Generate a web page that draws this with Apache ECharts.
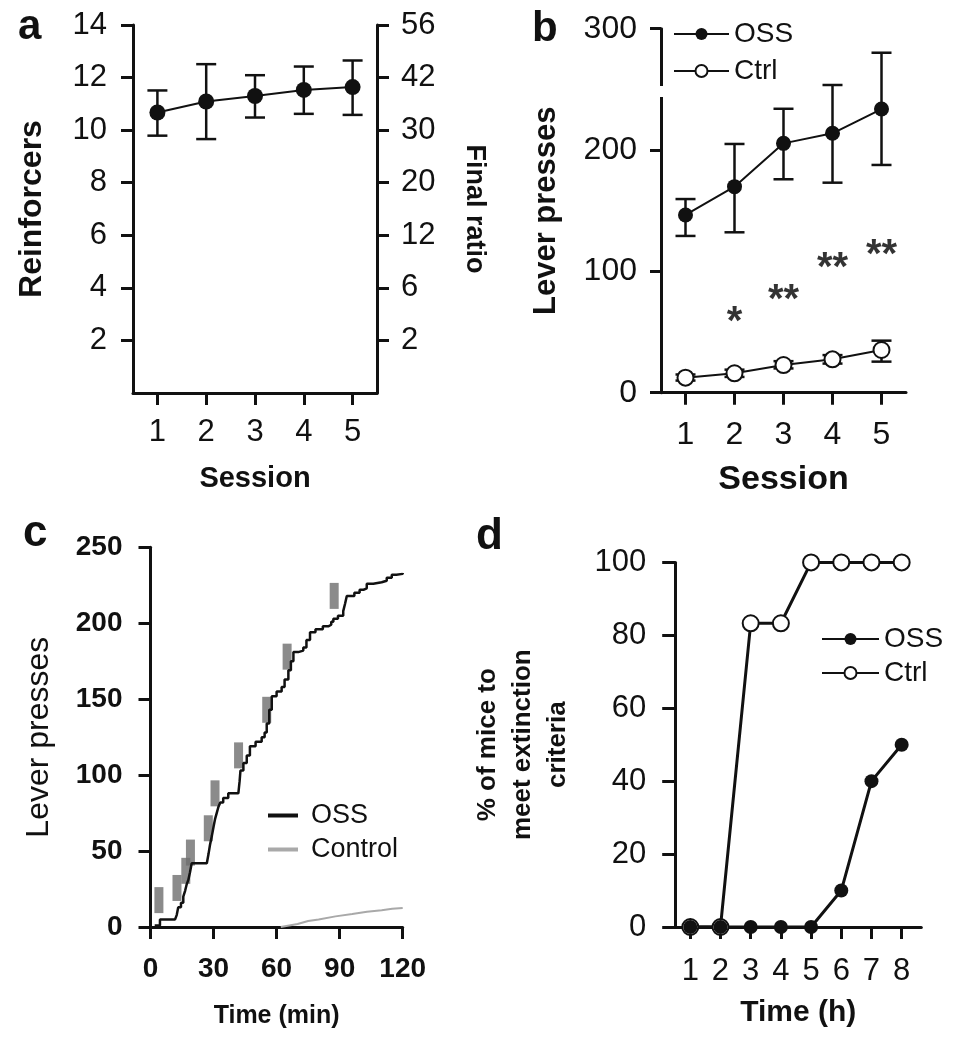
<!DOCTYPE html>
<html><head><meta charset="utf-8">
<script src="https://cdn.jsdelivr.net/npm/echarts@6/dist/echarts.min.js"></script>
<style>html,body{margin:0;padding:0;background:#fff}#chart{width:956px;height:1050px}</style>
</head><body><div id="chart"></div>
<script>
// ---------- Panel a ----------
const sessions = ['1', '2', '3', '4', '5'];
const reinforcersMean = [10.67, 11.09, 11.30, 11.53, 11.64];
const reinforcersHigh = [11.51, 12.51, 12.09, 12.42, 12.65];
const reinforcersLow  = [9.79, 9.66, 10.48, 10.62, 10.58];
const reinforcerTicks = [2, 4, 6, 8, 10, 12, 14];
const finalRatioLabels = ['2', '6', '12', '20', '30', '42', '56'];
// ---------- Panel b ----------
const ossPressMean = [146.5, 169.8, 205.5, 213.8, 233.8];
const ossPressHigh = [159.6, 205.0, 234.0, 253.6, 280.2];
const ossPressLow  = [129.2, 132.2, 175.9, 173.1, 187.7];
const ctrlPressMean = [12.4, 16.0, 22.8, 27.5, 35.2];
const ctrlPressHigh = [15.0, 19.0, 26.0, 31.0, 42.9];
const ctrlPressLow  = [10.0, 13.0, 20.0, 24.0, 25.6];
const sigSessions = ['2', '3', '4', '5'];
const sigMarks = ['*', '**', '**', '**'];
const sigHeights = [66.8, 84.6, 110.8, 121.7];
const bAxisBreak = [243.7, 252.8];
// ---------- Panel c ----------
const ossCumTime = [2, 4.5, 11.7, 12.5, 13.2, 14.5, 15.6, 16.5, 17.2, 18, 18.8, 19.6, 26.8, 27.6, 28.3, 29.2, 30, 30.7, 31.5, 32.3, 33.2, 34.6, 37, 41.8, 42.4, 42.8, 44.2, 45.8, 47.3, 50, 52.9, 54.3, 55.3, 56.5, 57.7, 60, 62.4, 63.8, 65.6, 66.8, 68, 70.3, 72.7, 74.2, 75.9, 78.5, 82, 84.6, 86, 87, 89.2, 91.7, 92.6, 93.4, 97, 99.5, 101.3, 102.9, 106, 110, 112.4, 114.8, 117, 120];
const ossCumCount = [1, 5, 5, 8, 13, 16, 20, 24, 28, 31, 36, 42, 42, 48, 54, 60, 66, 71, 75, 79, 82, 85, 88, 88, 96, 103, 108, 113, 119, 122, 125, 128, 134, 143, 152, 155, 158, 163, 169, 175, 181, 182, 184, 189, 194, 196, 198, 199, 201, 203, 205, 208, 213, 218, 220, 222, 223, 226, 227, 228, 230, 232, 232.5, 233];
const ctrlCumTime = [62, 66, 70, 75, 80, 88, 96, 103, 110, 115, 120];
const ctrlCumCount = [0, 1, 2, 4, 5, 7, 8.5, 10, 11, 12, 12.5];
const rewardTime = [4, 12.6, 16.8, 19, 27.5, 30.7, 41.9, 55.3, 65, 87.4];
const rewardCount = [17.7, 25.7, 37, 49, 65, 88, 113, 143, 178, 218];
// ---------- Panel d ----------
const hours = [1, 2, 3, 4, 5, 6, 7, 8];
const ossExtinct = [0, 0, 0, 0, 0, 10, 40, 50];
const ctrlExtinct = [0, 0, 83.3, 83.3, 100, 100, 100, 100];

const FONT = "'Liberation Sans', Arial, Helvetica, sans-serif";
const INK = '#111';

function errorBar(capHalf, width) {
  return function (params, api) {
    const x = api.value(0), lo = api.value(1), hi = api.value(2);
    const a = api.coord([x, lo]), b = api.coord([x, hi]);
    const st = { stroke: INK, lineWidth: width };
    return { type: 'group', children: [
      { type: 'line', shape: { x1: a[0], y1: a[1], x2: b[0], y2: b[1] }, style: st },
      { type: 'line', shape: { x1: a[0] - capHalf, y1: a[1], x2: a[0] + capHalf, y2: a[1] }, style: st },
      { type: 'line', shape: { x1: b[0] - capHalf, y1: b[1], x2: b[0] + capHalf, y2: b[1] }, style: st }
    ]};
  };
}

const axisLine = { show: true, lineStyle: { color: INK, width: 3 } };
const tickOut = (len) => ({ show: true, length: len, inside: false, lineStyle: { color: INK, width: 3 } });
const lbl = (size, margin, bold) => ({ color: INK, fontSize: size, fontFamily: FONT, margin: margin, fontWeight: bold ? 'bold' : 'normal' });
const nameStyle = (size, bold) => ({ color: INK, fontSize: size, fontFamily: FONT, fontWeight: bold ? 'bold' : 'normal' });

const option = {
  backgroundColor: '#fff',
  animation: false,
  textStyle: { fontFamily: FONT },
  grid: [
    { left: 133, top: 25, width: 244, height: 368 },
    { left: 661, top: 28.7, width: 245, height: 364 },
    { left: 150.5, top: 547.3, width: 252.2, height: 379.7 },
    { left: 675.2, top: 562.4, width: 246.1, height: 364.6 }
  ],
  xAxis: [
    { gridIndex: 0, type: 'category', data: sessions, boundaryGap: true,
      axisLine, axisTick: Object.assign(tickOut(12), { alignWithLabel: true }),
      axisLabel: lbl(31, 24), splitLine: { show: false },
      name: 'Session', nameLocation: 'middle', nameGap: 71, nameTextStyle: nameStyle(29, true) },
    { gridIndex: 1, type: 'category', data: sessions, boundaryGap: true,
      axisLine, axisTick: Object.assign(tickOut(12), { alignWithLabel: true }),
      axisLabel: lbl(32, 26), splitLine: { show: false },
      name: 'Session', nameLocation: 'middle', nameGap: 70, nameTextStyle: nameStyle(34, true) },
    { gridIndex: 2, type: 'value', min: 0, max: 120, interval: 30,
      axisLine, axisTick: tickOut(12), axisLabel: lbl(28, 28, true), splitLine: { show: false },
      name: 'Time (min)', nameLocation: 'middle', nameGap: 77, nameTextStyle: nameStyle(25, true) },
    { gridIndex: 3, type: 'value', min: 0.5, max: 8.65,
      axisLine, axisTick: Object.assign(tickOut(12), { customValues: hours }),
      axisLabel: Object.assign(lbl(31, 29), { customValues: hours }), splitLine: { show: false },
      name: 'Time (h)', nameLocation: 'middle', nameGap: 71, nameTextStyle: nameStyle(30, true) }
  ],
  yAxis: [
    { gridIndex: 0, type: 'value', min: 0, max: 14, interval: 2,
      axisLine, axisTick: Object.assign(tickOut(12), { customValues: reinforcerTicks }),
      axisLabel: Object.assign(lbl(31, 26), { customValues: reinforcerTicks }), splitLine: { show: false },
      name: 'Reinforcers', nameLocation: 'middle', nameGap: 85, nameTextStyle: nameStyle(32, true) },
    { gridIndex: 0, type: 'value', position: 'right', min: 0, max: 14, interval: 2,
      axisLine, axisTick: Object.assign(tickOut(12), { customValues: reinforcerTicks }),
      axisLabel: Object.assign(lbl(31, 24), { customValues: reinforcerTicks,
        formatter: (v) => finalRatioLabels[reinforcerTicks.indexOf(v)] || '' }),
      splitLine: { show: false },
      name: 'Final ratio', nameLocation: 'middle', nameRotate: -90, nameGap: 84, nameTextStyle: nameStyle(27, true) },
    { gridIndex: 1, type: 'value', min: 0, max: 300, interval: 100,
      axisLine, axisTick: tickOut(11), axisLabel: lbl(32, 24), splitLine: { show: false },
      name: 'Lever presses', nameLocation: 'middle', nameGap: 99, nameTextStyle: nameStyle(31, true) },
    { gridIndex: 2, type: 'value', min: 0, max: 250, interval: 50,
      axisLine, axisTick: tickOut(12), axisLabel: lbl(28, 28, true), splitLine: { show: false },
      name: 'Lever presses', nameLocation: 'middle', nameGap: 95, nameTextStyle: nameStyle(32, false) },
    { gridIndex: 3, type: 'value', min: 0, max: 100, interval: 20,
      axisLine, axisTick: tickOut(13), axisLabel: lbl(31, 29), splitLine: { show: false },
      name: '% of mice to\nmeet extinction\ncriteria', nameLocation: 'middle', nameGap: 100,
      nameTextStyle: Object.assign(nameStyle(26, true), { lineHeight: 35, align: 'center' }) }
  ],
  legend: [
    { data: ['OSS', 'Ctrl'], left: 673, top: 20, orient: 'vertical', itemWidth: 55, itemHeight: 15,
      itemGap: 9, padding: 0, selectedMode: false, textStyle: { color: INK, fontSize: 28, fontFamily: FONT } },
    { data: [{ name: 'OSS', icon: 'rect' }, { name: 'Control', icon: 'rect' }], left: 268, top: 802,
      orient: 'vertical', itemWidth: 30, itemHeight: 4, itemGap: 7, padding: 0, selectedMode: false,
      textStyle: { color: INK, fontSize: 27, fontFamily: FONT, padding: [0, 0, 0, 8] } },
    { data: ['OSS', 'Ctrl'], left: 821, top: 625, orient: 'vertical', itemWidth: 57, itemHeight: 15,
      itemGap: 6, padding: 0, selectedMode: false, textStyle: { color: INK, fontSize: 28, fontFamily: FONT } }
  ],
  graphic: [
    { type: 'text', left: 18, top: 6, style: { text: 'a', font: "bold 42px " + FONT, fill: INK } },
    { type: 'text', left: 532, top: 8, style: { text: 'b', font: "bold 42px " + FONT, fill: INK } },
    { type: 'text', left: 23, top: 512, style: { text: 'c', font: "bold 44px " + FONT, fill: INK } },
    { type: 'text', left: 476, top: 515, style: { text: 'd', font: "bold 44px " + FONT, fill: INK } }
  ],
  series: [
    // a
    { type: 'custom', name: 'errA', xAxisIndex: 0, yAxisIndex: 0, renderItem: errorBar(10, 2.5),
      data: sessions.map((s, i) => [i, reinforcersLow[i], reinforcersHigh[i]]), silent: true },
    { type: 'line', name: 'Reinforcers', xAxisIndex: 0, yAxisIndex: 0, data: reinforcersMean,
      symbol: 'circle', symbolSize: 16, itemStyle: { color: INK }, lineStyle: { color: INK, width: 2 } },
    // b
    { type: 'custom', name: 'errOSS', xAxisIndex: 1, yAxisIndex: 2, renderItem: errorBar(10, 2.5),
      data: sessions.map((s, i) => [i, ossPressLow[i], ossPressHigh[i]]), silent: true },
    { type: 'custom', name: 'errCtrl', xAxisIndex: 1, yAxisIndex: 2, renderItem: errorBar(10, 2.5),
      data: sessions.map((s, i) => [i, ctrlPressLow[i], ctrlPressHigh[i]]), silent: true },
    { type: 'line', name: 'OSS', xAxisIndex: 1, yAxisIndex: 2, data: ossPressMean,
      symbol: 'circle', symbolSize: 15, itemStyle: { color: INK }, lineStyle: { color: INK, width: 2 } },
    { type: 'line', name: 'Ctrl', xAxisIndex: 1, yAxisIndex: 2, data: ctrlPressMean,
      symbol: 'emptyCircle', symbolSize: 16, itemStyle: { color: INK, borderWidth: 2 }, lineStyle: { color: INK, width: 2 } },
    { type: 'scatter', name: 'sig', xAxisIndex: 1, yAxisIndex: 2, symbolSize: 0, silent: true,
      data: sigSessions.map((s, i) => [s, sigHeights[i], sigMarks[i]]),
      label: { show: true, position: 'inside', formatter: (p) => p.data[2], fontSize: 40, fontWeight: 'bold',
        fontFamily: FONT, color: '#000', offset: [0, 11] } },
    { type: 'custom', name: 'break', xAxisIndex: 1, yAxisIndex: 2, clip: false, silent: true, z: 5,
      data: [[0, bAxisBreak[0], bAxisBreak[1]]],
      renderItem: (params, api) => {
        const lo = api.coord([0, api.value(1)]), hi = api.coord([0, api.value(2)]);
        const x0 = params.coordSys.x;
        return { type: 'rect', shape: { x: x0 - 4, y: hi[1], width: 8, height: lo[1] - hi[1] }, style: { fill: '#fff' } };
      } },
    // c
    { type: 'scatter', name: 'reward', xAxisIndex: 2, yAxisIndex: 3, symbol: 'rect', symbolSize: [9, 26],
      itemStyle: { color: '#6e6e6e' }, silent: true,
      data: rewardTime.map((t, i) => [t, rewardCount[i]]) },
    { type: 'line', name: 'Control', xAxisIndex: 2, yAxisIndex: 3, symbol: 'none',
      itemStyle: { color: '#a9a9a9' }, lineStyle: { color: '#a9a9a9', width: 2 },
      data: ctrlCumTime.map((t, i) => [t, ctrlCumCount[i]]) },
    { type: 'line', name: 'OSS', xAxisIndex: 2, yAxisIndex: 3, symbol: 'none', step: 'end',
      itemStyle: { color: INK }, lineStyle: { color: INK, width: 2.5 },
      data: ossCumTime.map((t, i) => [t, ossCumCount[i]]) },
    // d
    { type: 'line', name: 'Ctrl', xAxisIndex: 3, yAxisIndex: 4, symbol: 'emptyCircle', symbolSize: 16,
      itemStyle: { color: INK, borderWidth: 2 }, lineStyle: { color: INK, width: 3 },
      data: hours.map((h, i) => [h, ctrlExtinct[i]]) },
    { type: 'line', name: 'OSS', xAxisIndex: 3, yAxisIndex: 4, symbol: 'circle', symbolSize: 14,
      itemStyle: { color: INK }, lineStyle: { color: INK, width: 3 },
      data: hours.map((h, i) => [h, ossExtinct[i]]) }
  ]
};

const chart = echarts.init(document.getElementById('chart'), null, { renderer: 'canvas' });
chart.setOption(option);
</script>
</body></html>
